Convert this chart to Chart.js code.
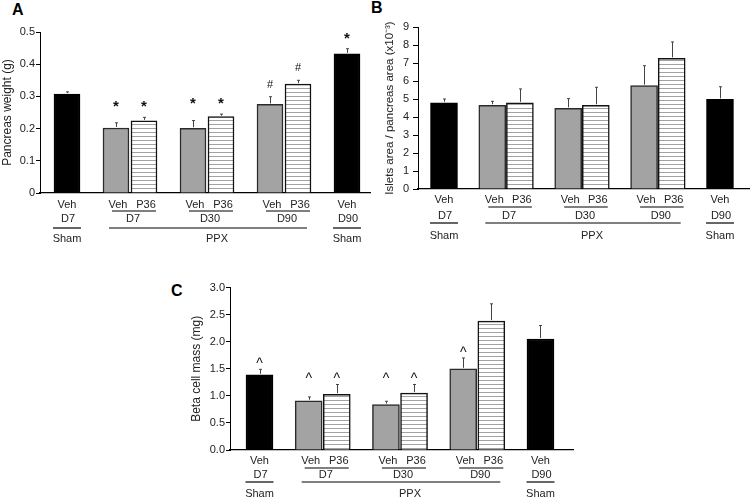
<!DOCTYPE html>
<html><head><meta charset="utf-8">
<script src="https://cdn.jsdelivr.net/npm/chart.js@4.4.1/dist/chart.umd.min.js"></script>
<style>
html,body{margin:0;padding:0;background:#fff;width:750px;height:499px;overflow:hidden;position:relative;font-family:"Liberation Sans",Arial,sans-serif;}
canvas{position:absolute;}
.lab{position:absolute;font:bold 16px "Liberation Sans",Arial,sans-serif;line-height:16px;color:#000;}
</style></head><body>
<div class="lab" style="left:12px;top:2px">A</div>
<div class="lab" style="left:371px;top:0px">B</div>
<div class="lab" style="left:171px;top:283px">C</div>
<canvas id="cA" width="375" height="280" style="left:0;top:0"></canvas>
<canvas id="cB" width="375" height="280" style="left:375px;top:0"></canvas>
<canvas id="cC" width="400" height="219" style="left:180px;top:280px"></canvas>
<script>
// ---------- data ----------
const barLabels = ['Veh','Veh','P36','Veh','P36','Veh','P36','Veh'];
const slots = [0, 7, 11, 18, 22, 29, 33, 40];
const dayLabels = ['D7','D7','D30','D90','D90'];
const dayMembers = [[0],[1,2],[3,4],[5,6],[7]];
const surgeryLabels = ['Sham','PPX','Sham'];
const surgeryMembers = [[0],[1,2,3,4,5,6],[7]];
const barKind = ['black','gray','stripe','gray','stripe','gray','stripe','black'];

const pancreasWeight    = [0.307, 0.202, 0.224, 0.201, 0.237, 0.275, 0.338, 0.432];
const pancreasWeightSem = [0.007, 0.016, 0.011, 0.024, 0.008, 0.024, 0.012, 0.016];
const pancreasMarks     = ['', '*', '*', '*', '*', '#', '#', '*'];

const isletRatio    = [4.79, 4.65, 4.79, 4.48, 4.65, 5.74, 7.26, 4.98];
const isletRatioSem = [0.21, 0.22, 0.77, 0.54, 1.00, 1.11, 0.91, 0.70];

const betaMass    = [1.39, 0.91, 1.03, 0.84, 1.05, 1.50, 2.38, 2.05];
const betaMassSem = [0.10, 0.07, 0.18, 0.06, 0.16, 0.20, 0.32, 0.25];
const betaMarks   = ['^', '^', '^', '^', '^', '^', '', ''];

const markGroups = [0, 1, 1, 2, 2, 3, 4, 5];

const ticksA = ['0','0.1','0.2','0.3','0.4','0.5'];
const ticksB = ['0','1','2','3','4','5','6','7','8','9'];
const ticksC = ['0.0','0.5','1.0','1.5','2.0','2.5','3.0'];

// ---------- drawing ----------
const FONT = '"Liberation Sans", Arial, sans-serif';
Chart.defaults.font.family = FONT;

function stripePattern(){
  const p = document.createElement('canvas'); p.width = 4; p.height = 4;
  const g = p.getContext('2d');
  g.fillStyle = '#fff'; g.fillRect(0,0,4,4);
  g.fillStyle = '#a2a2a2'; g.fillRect(0,0,4,1);
  return g.createPattern(p, 'repeat');
}

function annotPlugin(cfg){
  return {
    id: 'annot',
    afterDatasetsDraw(chart){
      const ctx = chart.ctx, ys = chart.scales.y, area = chart.chartArea;
      const meta = chart.getDatasetMeta(0);
      const cx = meta.data.map(b => b.x);
      const vals = cfg.values;
      const topPx = vals.map((v,i) => ys.getPixelForValue(v + cfg.sem[i]));
      ctx.save();
      // error bars
      ctx.strokeStyle = '#444'; ctx.lineWidth = 1;
      vals.forEach((v,i) => {
        const x = Math.round(cx[i]) + 0.5;
        const y0 = ys.getPixelForValue(v) - 1;
        const y1 = topPx[i];
        ctx.beginPath(); ctx.moveTo(x, y0); ctx.lineTo(x, y1);
        ctx.moveTo(x - 1.5, y1); ctx.lineTo(x + 1.5, y1); ctx.stroke();
      });
      // significance marks
      if (cfg.marks){
        ctx.fillStyle = '#111'; ctx.textAlign = 'center'; ctx.textBaseline = 'alphabetic';
        cfg.marks.forEach((m,i) => {
          if (!m) return;
          let top = Infinity;
          markGroups.forEach((g,j) => { if (g === markGroups[i]) top = Math.min(top, topPx[j]); });
          ctx.font = cfg.markFont[m] + ' ' + FONT;
          const mt = ctx.measureText(m);
          const c = top - cfg.markGap;
          ctx.fillText(m, cx[i], c + (mt.actualBoundingBoxAscent - mt.actualBoundingBoxDescent)/2);
        });
      }
      // category labels under the axis
      const base = area.bottom, o = cfg.rows;
      ctx.fillStyle = '#222'; ctx.font = '11px ' + FONT;
      ctx.textAlign = 'center'; ctx.textBaseline = 'middle';
      ctx.strokeStyle = '#000'; ctx.lineWidth = 1.2;
      barLabels.forEach((t,i) => {
        const paired = dayMembers.find(m => m.includes(i)).length > 1;
        ctx.fillText(t, cx[i] + (paired ? 2 : 0), base + o[0]);
      });
      const hline = (x0, x1, y) => { ctx.beginPath(); ctx.moveTo(x0, y); ctx.lineTo(x1, y); ctx.stroke(); };
      dayMembers.forEach((m,j) => {
        const c0 = cx[m[0]], c1 = cx[m[m.length-1]];
        ctx.fillText(dayLabels[j], (c0 + c1)/2 + (m.length > 1 ? 3 : 1), base + o[2]);
        if (m.length > 1) hline(c0 - 4, c1 + 12, base + o[1]);
      });
      surgeryMembers.forEach((m,j) => {
        const c0 = cx[m[0]], c1 = cx[m[m.length-1]];
        if (m.length > 1){
          hline(c0 - 7, c1 + 9, base + o[3]);
          ctx.fillText(surgeryLabels[j], (c0 + c1)/2 + 10, base + o[4]);
        } else {
          hline(c0 - 14, c0 + 14, base + o[3]);
          ctx.fillText(surgeryLabels[j], c0, base + o[4]);
        }
      });
      ctx.restore();
    }
  };
}

function makeChart(id, c){
  const canvas = document.getElementById(id);
  const ctx = canvas.getContext('2d');
  const pat = stripePattern();
  const fills = barKind.map(k => k === 'black' ? '#000' : k === 'gray' ? '#a3a3a3' : pat);
  const borders = barKind.map(k => k === 'black' ? '#000' : k === 'gray' ? '#2a2a2a' : '#111');
  return new Chart(ctx, {
    type: 'bar',
    data: {
      datasets: [{
        data: c.values.map((v,i) => ({x: slots[i], y: v})),
        backgroundColor: fills,
        borderColor: borders,
        borderWidth: 1.5,
        barThickness: c.barWidth
      }]
    },
    options: {
      responsive: false, animation: false, devicePixelRatio: 1,
      layout: { padding: c.padding },
      plugins: { legend: {display:false}, tooltip: {enabled:false} },
      scales: {
        x: {
          type: 'linear', min: c.xmin, max: c.xmax, offset: false,
          ticks: {display:false}, grid: {display:false},
          border: {display:true, color:'#000', width:1.3},
          afterFit: s => { s.height = c.xHeight; }
        },
        y: {
          min: 0, max: c.ymax,
          ticks: { stepSize: c.step, color:'#222', font:{size:11}, padding: c.tickPad,
                   callback: (v, idx) => c.tickLabels[idx] },
          grid: { drawOnChartArea:false, drawTicks:true, tickLength: c.tickLen, color:'#000', tickWidth:1 },
          border: {display:true, color:'#000', width:1},
          title: { display:true, text:c.title, color:'#222', font:{size:c.titleSize}, padding:{top:c.titlePad, bottom:0} },
          afterFit: s => { s.width = c.yWidth; }
        }
      }
    },
    plugins: [annotPlugin(c)]
  });
}

makeChart('cA', {
  values: pancreasWeight, sem: pancreasWeightSem, marks: pancreasMarks,
  markFont: {'*':'bold 15px', '#':'11px'}, markGap: 13,
  ymax: 0.5, step: 0.1, tickLabels: ticksA, title: 'Pancreas weight (g)', titleSize: 12, titlePad: 0,
  yWidth: 40, xHeight: 87, padding: {top:32, right:5, left:0, bottom:0},
  xmin: -3.857, xmax: 43.286, barWidth: 26, tickPad: 1, tickLen: 4,
  rows: [12, 18, 26, 35, 46]
});
makeChart('cB', {
  values: isletRatio, sem: isletRatioSem, marks: null,
  ymax: 9, step: 1, tickLabels: ticksB, title: 'Islets area / pancreas area (x10\u207B\u00B3)', titleSize: 11.5, titlePad: 8,
  yWidth: 43, xHeight: 91, padding: {top:27, right:0, left:0, bottom:0},
  xmin: -3.768, xmax: 44.35, barWidth: 27, tickPad: 4, tickLen: 5,
  rows: [11, 18, 27, 34, 47]
});
makeChart('cC', {
  values: betaMass, sem: betaMassSem, marks: betaMarks,
  markFont: {'^':'14px'}, markGap: 9,
  ymax: 3, step: 0.5, tickLabels: ticksC, title: 'Beta cell mass (mg)', titleSize: 12, titlePad: 9,
  yWidth: 50, xHeight: 49, padding: {top:7, right:7, left:0, bottom:0},
  xmin: -4.2, xmax: 44.63, barWidth: 27, tickPad: 1, tickLen: 4,
  rows: [10.5, 18, 24.5, 32, 44]
});
</script>
</body></html>
